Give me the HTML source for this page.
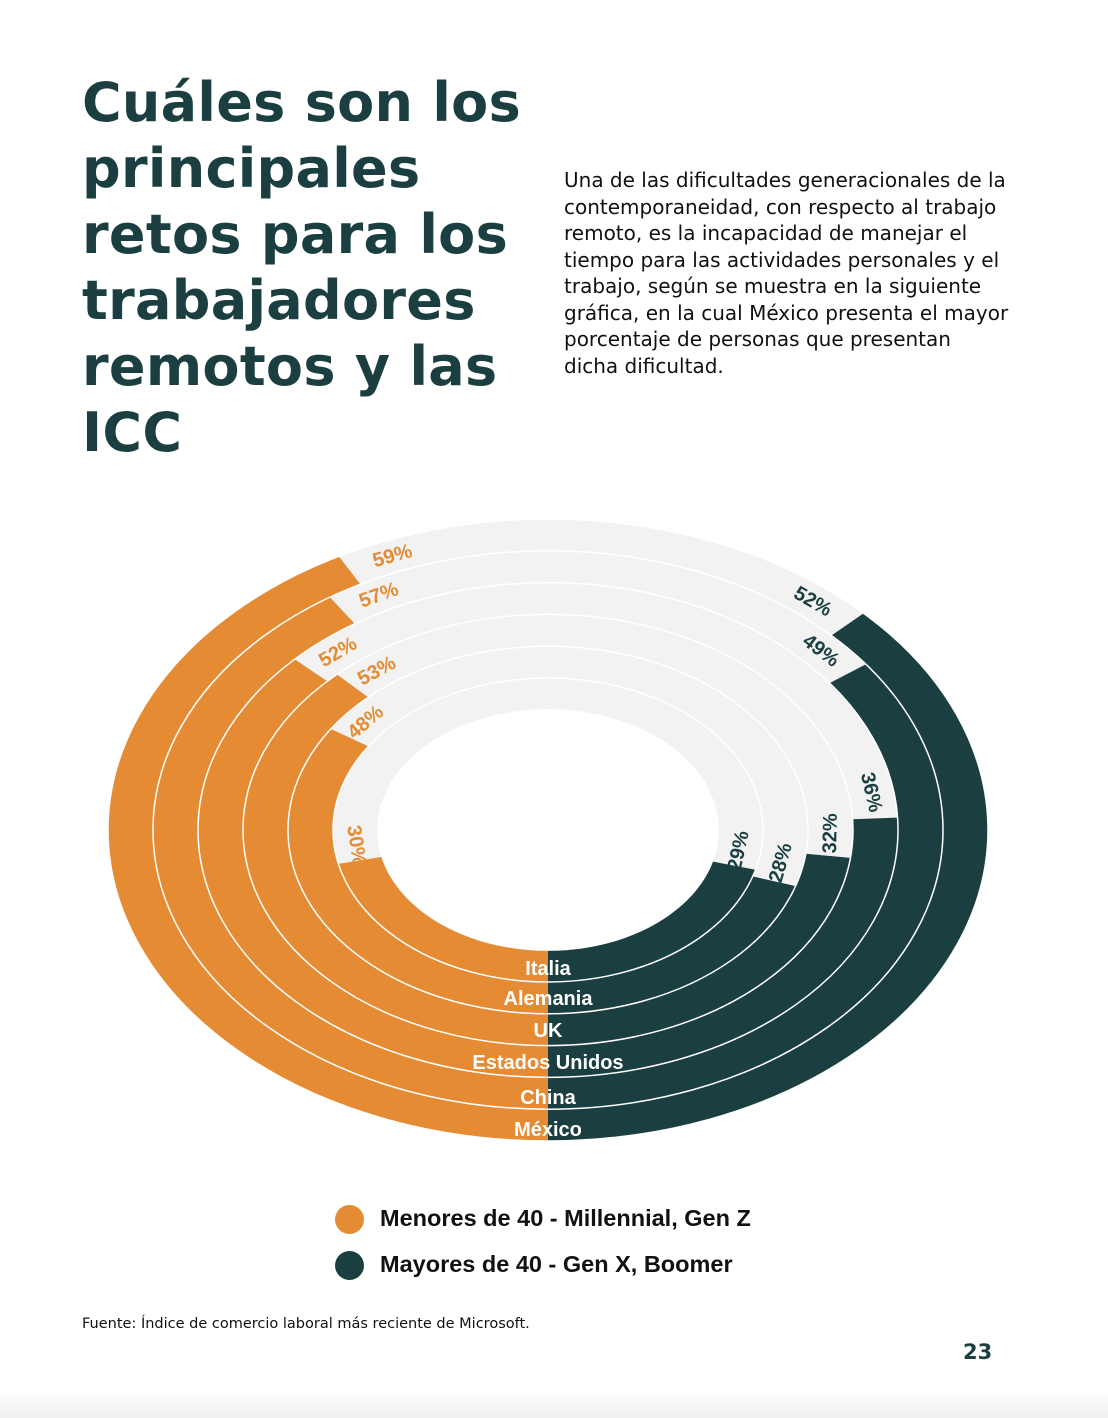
<!DOCTYPE html>
<html><head><meta charset="utf-8"><style>
html,body{margin:0;padding:0;background:#fff;}
body{width:1108px;height:1418px;position:relative;overflow:hidden;font-family:"DejaVu Sans","Liberation Sans",sans-serif;}
h1{position:absolute;left:82px;top:70px;margin:0;font-size:54px;line-height:66px;color:#1b3f40;font-weight:bold;letter-spacing:0.3px;}
p.d{position:absolute;left:564px;top:167px;margin:0;width:460px;font-size:20px;line-height:26.5px;color:#111;}
.leg{position:absolute;left:380px;font-family:"Liberation Sans",sans-serif;font-weight:bold;font-size:23.5px;color:#111;}
.dot{position:absolute;left:335px;width:29px;height:29px;border-radius:50%;}
.src{position:absolute;left:82px;top:1316px;font-size:14.5px;color:#111;}
.pg{position:absolute;left:963px;top:1340px;font-size:21px;font-weight:bold;color:#1b3f40;}
.foot{position:absolute;left:0;top:1390px;width:1108px;height:28px;background:linear-gradient(#fff,#f0f0f0);}
</style></head><body>
<h1>Cuáles son los<br>principales<br>retos para los<br>trabajadores<br>remotos y las<br>ICC</h1>
<p class="d">Una de las dificultades generacionales de la<br>contemporaneidad, con respecto al trabajo<br>remoto, es la incapacidad de manejar el<br>tiempo para las actividades personales y el<br>trabajo, según se muestra en la siguiente<br>gráfica, en la cual México presenta el mayor<br>porcentaje de personas que presentan<br>dicha dificultad.</p>
<svg id="c" width="1108" height="1418" style="position:absolute;left:0;top:0"></svg>
<div class="dot" style="top:1205px;background:#e58b33"></div>
<div class="leg" style="top:1205px">Menores de 40 - Millennial, Gen Z</div>
<div class="dot" style="top:1251px;background:#1b3f40"></div>
<div class="leg" style="top:1251px">Mayores de 40 - Gen X, Boomer</div>
<div class="src">Fuente: Índice de comercio laboral más reciente de Microsoft.</div>
<div class="pg">23</div>
<div class="foot"></div>
<script>
const NS="http://www.w3.org/2000/svg",svg=document.getElementById('c');
const cx=548,cy=830,sy=311/440,KO=2.57,KD=2.58;
const rs=[440,395,350,305,260,215,171];
const data=[["México",59,52],["China",57,49],["Estados Unidos",52,36],["UK",53,32],["Alemania",48,28],["Italia",30,29]];
const ys=[1129,1097,1062,1030,998,968];
function pt(r,t,s){return [cx+s*Math.sin(t)*r, cy+Math.cos(t)*r*sy];}
function sector(r1,r2,a0,a1,s,fill){
 const n=60;let d="";
 for(let i=0;i<=n;i++){const t=(a0+(a1-a0)*i/n)*Math.PI/180;const p=pt(r1,t,s);d+=(i?"L":"M")+p[0].toFixed(1)+","+p[1].toFixed(1);}
 for(let i=n;i>=0;i--){const t=(a0+(a1-a0)*i/n)*Math.PI/180;const p=pt(r2,t,s);d+="L"+p[0].toFixed(1)+","+p[1].toFixed(1);}
 const e=document.createElementNS(NS,'path');e.setAttribute('d',d+'Z');e.setAttribute('fill',fill);svg.appendChild(e);
}
function el(tag,at,txt){const e=document.createElementNS(NS,tag);for(const k in at)e.setAttribute(k,at[k]);if(txt)e.textContent=txt;svg.appendChild(e);return e;}
data.forEach((d,i)=>{
 const r1=rs[i],r2=rs[i+1];
 sector(r1,r2,0,360,1,'#f2f2f2');
 sector(r1,r2,0,d[1]*KO,-1,'#e58b33');
 sector(r1,r2,0,d[2]*KD,1,'#1b3f40');
});
rs.forEach((r,i)=>{if(i<6)el('ellipse',{cx:cx,cy:cy,rx:r,ry:r*sy,fill:'none',stroke:'#fff','stroke-width':1.5});});
data.forEach((d,i)=>{
 const rm=(rs[i]+rs[i+1])/2;
 [[d[1],-1,'#e58b33',KO],[d[2],1,'#1b3f40',KD]].forEach(([v,s,col,K])=>{
  const t=(v*K+6.5)*Math.PI/180;const p=pt(rm,t,s);
  const dx=s*Math.cos(t)*rm, dy=-Math.sin(t)*rm*sy;
  let ang=Math.atan2(dy,dx)*180/Math.PI; if(s<0)ang+=180;
  if(ang>90)ang-=180; if(ang<-90)ang+=180;
  el('text',{x:p[0],y:p[1],fill:col,'font-family':'Liberation Sans,sans-serif','font-weight':'bold','font-size':20,'text-anchor':'middle','dominant-baseline':'central',transform:`rotate(${ang.toFixed(1)} ${p[0].toFixed(1)} ${p[1].toFixed(1)})`},v+'%');
 });
 el('text',{x:cx,y:ys[i]+7,fill:'#fff','font-family':'Liberation Sans,sans-serif','font-weight':'bold','font-size':20,'text-anchor':'middle'},d[0]);
});
</script>
</body></html>
